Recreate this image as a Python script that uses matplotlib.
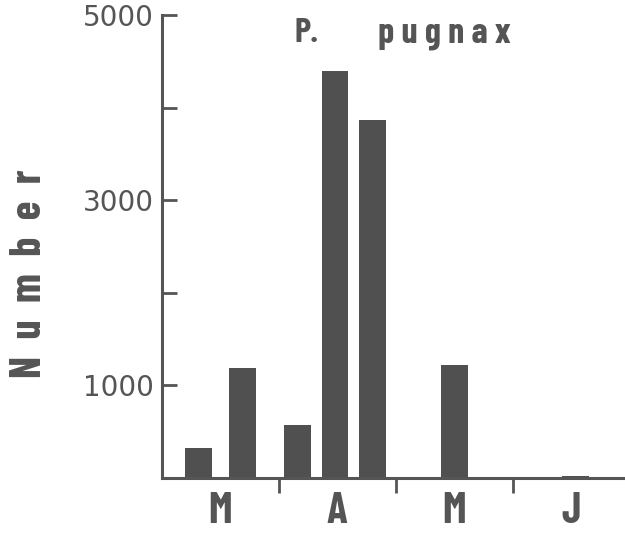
import matplotlib.pyplot as plt

# sample dates as fractions of months from start of March
positions = [0.31, 0.69, 1.16, 1.48, 1.80, 2.50, 3.54]
counts = [320, 1190, 570, 4390, 3870, 1220, 20]
month_labels = ['M', 'A', 'M', 'J']
yticks = [1000, 2000, 3000, 4000, 5000]
ytick_labels = ['1000', '', '3000', '', '5000']

ink = '#555555'
narrow = ['Barlow Condensed', 'DejaVu Sans']

fig = plt.figure(figsize=(6.25, 5.34), dpi=100)
ax = fig.add_axes([0.259, 0.105, 0.741, 0.867])

ax.bar(positions, counts, width=0.23, color='#505050', edgecolor='none')

ax.set_xlim(0, 3.96)
ax.set_ylim(0, 5000)

for s in ['top', 'right']:
    ax.spines[s].set_visible(False)
for s in ['left', 'bottom']:
    ax.spines[s].set_linewidth(2.2)
    ax.spines[s].set_color(ink)

# y ticks point inwards
ax.set_yticks(yticks)
ax.set_yticklabels(ytick_labels, fontsize=20, color=ink)
ax.tick_params(axis='y', direction='in', length=11, width=2, color=ink, pad=6)

# month boundaries as major ticks, month names as minor labels
ax.set_xticks([1, 2, 3])
ax.set_xticklabels([])
ax.tick_params(axis='x', which='major', direction='out', length=11, width=2, color=ink)
ax.set_xticks([0.5, 1.5, 2.5, 3.5], minor=True)
ax.set_xticklabels(month_labels, minor=True, fontsize=31, fontweight='bold',
                   color=ink, family=narrow)
ax.tick_params(axis='x', which='minor', length=0, pad=10)

fig.text(0.047, 0.488, 'N  u  m  b  e  r', rotation=90, ha='center', va='center',
         fontsize=31, fontweight='bold', color=ink, family=narrow)
fig.text(0.472, 0.921, 'P.', ha='left', va='baseline', fontsize=25,
         fontweight='bold', color=ink, family=narrow)
fig.text(0.605, 0.921, 'p u g n a x', ha='left', va='baseline', fontsize=26,
         fontweight='bold', color=ink, family=narrow)

plt.savefig('out.png', dpi=100)
plt.close()
